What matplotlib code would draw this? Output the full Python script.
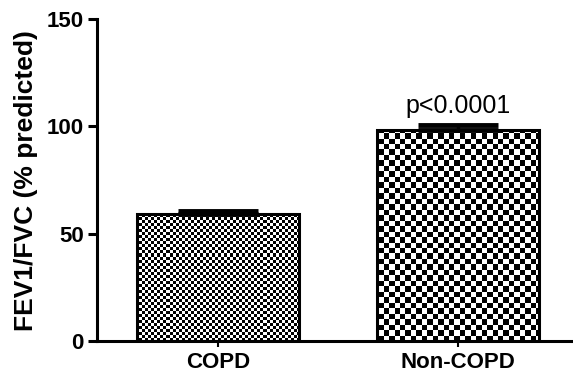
import numpy as np
import matplotlib
matplotlib.use('Agg')
import matplotlib.pyplot as plt

groups = ['COPD', 'Non-COPD']
means = [59, 98.5]
errs = [1.5, 2.0]
cells = [3.0, 5.4]  # checker square size in pixels
p_text = 'p<0.0001'

plt.rcParams['font.family'] = ['Liberation Sans', 'DejaVu Sans']

fig = plt.figure(figsize=(5.73, 3.83), dpi=100)
ax = fig.add_axes([0.169, 0.1097, 0.831, 0.8403])
xl = (-0.504, 1.479)
ax.set_xlim(*xl)
ax.set_ylim(0, 150)

x = np.arange(len(groups))
bars = ax.bar(x, means, width=0.675, facecolor='none', edgecolor='black',
              linewidth=2.2, zorder=4)

# checkerboard fill clipped to each bar
ax_w, ax_h = 0.831 * 573, 0.8403 * 383
for b, c in zip(bars, cells):
    nx, ny = int(ax_w / c), int(ax_h / c)
    ii, jj = np.indices((ny, nx))
    board = (ii + jj) % 2
    im = ax.imshow(board, cmap='gray', interpolation='nearest', aspect='auto',
                   extent=[xl[0], xl[1], 0, 150], origin='lower', zorder=3)
    im.set_clip_path(b)
ax.set_xlim(*xl)
ax.set_ylim(0, 150)

ax.errorbar(x, means, yerr=[[0, 0], errs], fmt='none', ecolor='black',
            elinewidth=2.5, capsize=29, capthick=3.5, zorder=5)

ax.text(1, means[1] + errs[1] + 3.5, p_text, ha='center', va='bottom', fontsize=18)

for s in ['top', 'right']:
    ax.spines[s].set_visible(False)
for s in ['left', 'bottom']:
    ax.spines[s].set_linewidth(2.2)

ax.set_yticks([0, 50, 100, 150])
ax.set_xticks(x)
ax.set_xticklabels(groups)
ax.tick_params(axis='y', length=6.5, width=2.2, labelsize=16, pad=3)
ax.tick_params(axis='x', length=4, width=1.5, labelsize=16, pad=4)
for lab in ax.get_xticklabels() + ax.get_yticklabels():
    lab.set_fontweight('bold')
ax.set_ylabel('FEV1/FVC (% predicted)', fontsize=19, fontweight='bold', labelpad=6)

fig.savefig('out.png', dpi=100)
